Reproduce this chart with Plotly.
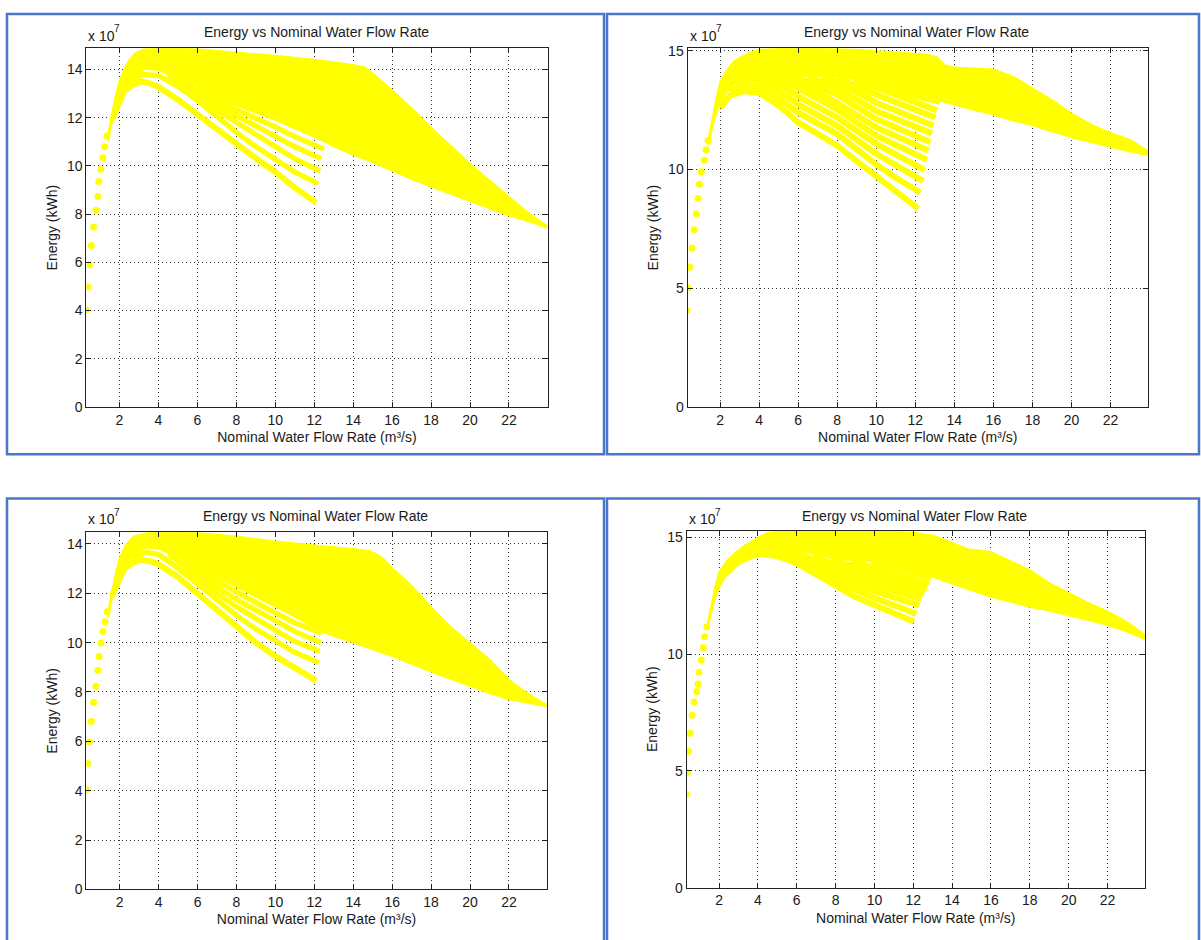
import plotly.graph_objects as go

W, H = 1201, 940
YELLOW = "#FFFF00"
TEXT = "#1a1a1a"
FONT = "Liberation Sans, Arial, Helvetica, sans-serif"
BORDER = "#4a76c8"

TITLE = "Energy vs Nominal Water Flow Rate"
XLABEL = "Nominal Water Flow Rate (m³/s)"
YLABEL = "Energy (kWh)"
EXP_BASE = "x 10"
EXP_POWER = "7"
X_TICKS = [2, 4, 6, 8, 10, 12, 14, 16, 18, 20, 22]
Y_TICKS_A = [0, 2, 4, 6, 8, 10, 12, 14]
Y_TICKS_B = [0, 5, 10, 15]

# ---------------- values (energy in units of 1e7 kWh) ----------------
# Panel 1 (top-left)
P1_DOTS_X = [0.30, 0.38, 0.47, 0.55, 0.67, 0.79, 0.89, 0.94, 1.04, 1.14, 1.24, 1.35]
P1_DOTS_Y = [4.03, 4.98, 5.90, 6.70, 7.47, 8.15, 8.73, 9.35, 9.86, 10.34, 10.80, 11.24]
P1_TOP_X = [1.40, 1.50, 1.65, 1.80, 2.00, 2.30, 2.75, 3.25, 4.0, 5.0, 6.0, 8.0, 10.0, 12.0, 14.0, 14.6,
            15.0, 16.0, 17.0, 18.0, 19.0, 20.0, 21.0, 22.0, 23.0, 23.5, 24.0]
P1_TOP_Y = [11.30, 11.70, 12.30, 12.95, 13.55, 14.15, 14.65, 14.85, 14.88, 14.90, 14.85, 14.72, 14.58, 14.42,
            14.20, 14.10, 13.85, 13.15, 12.40, 11.60, 10.85, 10.10, 9.40, 8.72, 8.05, 7.77, 7.50]
P1_BOT_X = [24.0, 23.0, 22.0, 21.0, 20.0, 19.0, 18.0, 17.0, 16.0, 15.0, 14.0, 13.0, 12.6, 11.0, 10.0, 9.0,
            8.0, 7.0, 6.0, 5.0, 4.0, 3.3, 2.8, 2.4, 2.0, 1.7, 1.4]
P1_BOT_Y = [7.42, 7.70, 7.93, 8.22, 8.53, 8.83, 9.14, 9.45, 9.80, 10.15, 10.45, 10.80, 10.98, 11.55, 11.90,
            12.20, 12.50, 12.82, 13.32, 13.62, 13.97, 14.02, 13.75, 13.35, 12.85, 12.10, 11.00]
P1_BANDS_X = [
    [1.6, 1.9, 2.2, 2.6, 3.1, 3.5, 4.0, 5.0, 6.0, 7.0, 8.0, 9.0, 10.0, 11.0, 12.1],
    [2.6, 3.2, 4.0, 5.0, 6.0, 7.0, 8.0, 9.0, 10.0, 11.0, 12.2],
    [4.5, 5.0, 6.0, 7.0, 8.0, 9.0, 10.0, 11.0, 12.3],
    [5.2, 6.0, 7.0, 8.0, 9.0, 10.0, 11.0, 12.35],
    [6.0, 7.0, 8.0, 9.0, 10.0, 11.0, 12.5],
]
P1_BANDS_Y = [
    [11.9, 12.55, 13.05, 13.35, 13.5, 13.45, 13.28, 12.75, 12.13, 11.5, 10.9, 10.32, 9.75, 9.1, 8.48],
    [13.55, 13.8, 13.75, 13.3, 12.72, 12.05, 11.4, 10.8, 10.25, 9.75, 9.27],
    [13.78, 13.52, 12.95, 12.32, 11.82, 11.3, 10.8, 10.3, 9.8],
    [13.54, 13.12, 12.52, 12.1, 11.7, 11.25, 10.8, 10.3],
    [13.27, 12.7, 12.33, 12.0, 11.62, 11.22, 10.7],
]

# Panel 2 (top-right)
P2_DOTS_X = [0.30, 0.36, 0.45, 0.56, 0.67, 0.78, 0.87, 0.94, 1.04, 1.18, 1.28, 1.38]
P2_DOTS_Y = [4.05, 5.02, 5.88, 6.69, 7.46, 8.13, 8.78, 9.38, 9.90, 10.39, 10.83, 11.22]
P2_TOP_X = [1.40, 1.60, 1.80, 2.00, 2.30, 2.70, 3.20, 3.60, 4.0, 5.0, 7.0, 9.0, 11.0, 12.5, 13.1, 13.5,
            14.0, 15.0, 16.0, 17.0, 18.0, 19.0, 20.0, 21.0, 22.0, 23.0, 23.5, 23.92]
P2_TOP_Y = [11.30, 12.20, 13.00, 13.70, 14.15, 14.55, 14.80, 14.95, 15.05, 15.10, 15.10, 15.05, 14.95,
            14.85, 14.75, 14.40, 14.30, 14.25, 14.22, 13.92, 13.42, 12.93, 12.37, 11.90, 11.55, 11.25,
            11.00, 10.78]
P2_BOT_X = [23.92, 23.0, 22.0, 21.0, 20.0, 19.0, 18.0, 17.0, 16.0, 15.0, 14.0, 13.3, 12.0, 11.0, 10.0,
            9.0, 8.0, 7.0, 6.0, 5.0, 4.0, 3.4, 2.8, 2.3, 2.0, 1.7, 1.4]
P2_BOT_Y = [10.60, 10.75, 10.95, 11.15, 11.35, 11.60, 11.85, 12.05, 12.30, 12.50, 12.72, 12.90, 13.18,
            13.40, 13.60, 13.78, 13.90, 13.95, 13.95, 13.95, 13.92, 13.88, 13.65, 13.20, 12.80, 12.10, 11.00]
P2_FAN_X = [
    [2.0, 2.5, 3.2, 4.0, 5.0, 6.0, 7.0, 8.0, 9.0, 10.0, 11.0, 12.15],
    [2.5, 3.3, 4.0, 5.0, 6.0, 7.0, 8.0, 10.0, 11.0, 12.26],
    [2.8, 3.5, 4.0, 5.0, 6.0, 8.0, 10.0, 12.4],
    [3.8, 4.2, 5.0, 6.0, 8.0, 10.0, 12.48],
    [4.5, 5.0, 6.0, 8.0, 10.0, 12.6],
    [5.2, 6.0, 8.0, 10.0, 12.68],
    [5.8, 6.0, 8.0, 10.0, 12.77],
    [6.5, 8.0, 10.0, 12.85],
    [7.2, 8.0, 10.0, 12.94],
    [8.0, 10.0, 13.03],
    [8.8, 10.0, 13.11],
    [9.5, 10.0, 13.25],
]
P2_FAN_Y = [
    [12.6, 13.1, 13.3, 13.22, 12.7, 11.98, 11.5, 11.0, 10.35, 9.7, 9.05, 8.35],
    [13.3, 13.55, 13.48, 13.0, 12.39, 11.95, 11.49, 10.21, 9.65, 9.03],
    [13.6, 13.8, 13.75, 13.3, 12.74, 11.84, 10.66, 9.51],
    [13.85, 13.82, 13.6, 13.08, 12.19, 11.08, 9.97],
    [13.88, 13.8, 13.43, 12.53, 11.42, 10.41],
    [13.9, 13.7, 12.81, 11.77, 10.8],
    [13.9, 13.85, 13.15, 12.12, 11.15],
    [13.9, 13.43, 12.46, 11.52],
    [13.88, 13.7, 12.81, 11.84],
    [13.85, 13.15, 12.19],
    [13.7, 13.45, 12.49],
    [13.5, 13.5, 12.85],
]

# Panel 3 (bottom-left)
P3_DOTS_X = [0.30, 0.36, 0.44, 0.54, 0.66, 0.78, 0.88, 0.95, 1.04, 1.14, 1.25, 1.36]
P3_DOTS_Y = [4.05, 5.10, 5.97, 6.80, 7.57, 8.23, 8.88, 9.44, 9.98, 10.45, 10.85, 11.25]
P3_TOP_X = [1.40, 1.60, 1.80, 2.00, 2.30, 2.70, 3.50, 4.0, 6.0, 8.0, 10.0, 12.0, 14.0, 14.9, 15.5, 16.0,
            17.0, 18.0, 19.0, 20.0, 21.0, 22.0, 23.0, 23.95]
P3_TOP_Y = [11.30, 12.10, 12.85, 13.45, 13.95, 14.30, 14.47, 14.50, 14.45, 14.31, 14.11, 13.95, 13.81,
            13.71, 13.45, 13.04, 12.31, 11.45, 10.65, 9.98, 9.32, 8.50, 7.92, 7.48]
P3_BOT_X = [23.95, 23.0, 22.0, 21.0, 20.0, 19.0, 18.0, 17.0, 16.0, 15.0, 14.0, 13.0, 12.45, 11.0, 10.0,
            9.0, 8.0, 7.0, 6.0, 5.0, 4.0, 3.4, 2.8, 2.4, 2.0, 1.7, 1.4]
P3_BOT_Y = [7.40, 7.55, 7.69, 7.95, 8.22, 8.52, 8.82, 9.13, 9.45, 9.72, 10.00, 10.25, 10.42, 11.05, 11.45,
            11.85, 12.25, 12.65, 13.15, 13.45, 13.80, 13.85, 13.60, 13.30, 12.85, 12.10, 11.00]
P3_BANDS_X = [
    [1.6, 1.9, 2.2, 2.6, 3.1, 3.6, 4.0, 5.0, 6.0, 7.0, 8.0, 9.0, 10.0, 11.0, 12.1],
    [2.6, 3.4, 4.0, 5.0, 6.0, 7.0, 8.0, 9.0, 10.0, 11.0, 12.23],
    [4.5, 5.0, 6.0, 7.0, 8.0, 9.0, 10.0, 11.0, 12.28],
    [5.2, 6.0, 7.0, 8.0, 9.0, 10.0, 11.0, 12.33],
    [5.8, 7.0, 8.0, 9.0, 10.0, 11.0, 12.4],
]
P3_BANDS_Y = [
    [11.9, 12.5, 12.95, 13.22, 13.35, 13.3, 13.18, 12.65, 11.98, 11.3, 10.6, 10.0, 9.45, 8.95, 8.46],
    [13.42, 13.66, 13.57, 13.02, 12.38, 11.72, 11.1, 10.55, 10.05, 9.6, 9.19],
    [13.58, 13.3, 12.62, 12.0, 11.45, 10.95, 10.5, 10.05, 9.65],
    [13.38, 12.85, 12.25, 11.75, 11.3, 10.85, 10.45, 10.0],
    [13.18, 12.5, 12.05, 11.6, 11.2, 10.8, 10.38],
]

# Panel 4 (bottom-right)
P4_DOTS_X = [0.30, 0.36, 0.43, 0.52, 0.62, 0.71, 0.85, 0.92, 0.97, 1.09, 1.19, 1.26, 1.37]
P4_DOTS_Y = [4.00, 4.92, 5.83, 6.61, 7.38, 7.95, 8.40, 8.72, 9.22, 9.75, 10.27, 10.74, 11.17]
P4_TOP_X = [1.40, 1.60, 1.80, 2.00, 2.40, 2.77, 3.20, 3.63, 4.0, 4.5, 5.0, 8.0, 10.0, 12.0, 13.1, 13.95,
            14.8, 16.0, 17.0, 18.0, 19.1, 20.0, 21.0, 22.0, 23.0, 23.9]
P4_TOP_Y = [11.30, 12.10, 12.90, 13.51, 14.00, 14.29, 14.60, 14.79, 15.00, 15.20, 15.28, 15.28, 15.27,
            15.22, 15.07, 14.79, 14.50, 14.38, 14.00, 13.60, 13.00, 12.62, 12.20, 11.84, 11.38, 10.85]
P4_BOT_X = [23.9, 23.0, 22.0, 21.0, 20.0, 19.0, 18.0, 17.0, 16.0, 15.0, 14.0, 13.0, 12.0, 11.0, 10.0, 9.0,
            8.0, 7.0, 6.0, 5.0, 4.3, 3.6, 3.0, 2.5, 2.0, 1.7, 1.4]
P4_BOT_Y = [10.65, 10.95, 11.24, 11.45, 11.66, 11.85, 12.02, 12.22, 12.44, 12.72, 13.01, 13.30, 13.55,
            13.75, 13.95, 14.02, 14.05, 14.25, 14.45, 14.60, 14.60, 14.45, 14.10, 13.55, 12.85, 12.10, 11.00]
P4_FAN_X = [
    [2.3, 3.0, 4.0, 5.0, 6.0, 7.0, 8.0, 9.0, 10.0, 11.0, 12.04],
    [3.0, 4.2, 5.0, 6.0, 8.0, 10.0, 12.16],
    [4.5, 5.0, 6.0, 8.0, 10.0, 12.3],
    [5.8, 6.0, 8.0, 10.0, 12.42],
    [6.8, 8.0, 10.0, 12.56],
    [7.8, 8.0, 10.0, 12.7],
    [8.8, 10.0, 12.81],
    [9.8, 10.0, 12.93],
]
P4_FAN_Y = [
    [13.4, 13.95, 14.3, 14.2, 13.88, 13.4, 12.88, 12.45, 12.1, 11.75, 11.38],
    [14.15, 14.5, 14.45, 14.1, 13.12, 12.4, 11.73],
    [14.55, 14.55, 14.3, 13.37, 12.69, 12.09],
    [14.4, 14.35, 13.6, 12.94, 12.35],
    [14.15, 13.82, 13.2, 12.58],
    [14.02, 14.0, 13.44, 12.8],
    [13.98, 13.67, 13.01],
    [13.93, 13.95, 13.25],
]

# ---------------- layout description (pixels) ----------------
PANELS = [
    dict(data=(P1_DOTS_X, P1_DOTS_Y, P1_TOP_X, P1_TOP_Y, P1_BOT_X, P1_BOT_Y, P1_BANDS_X, P1_BANDS_Y),
         ax=(86.4, 547.5, 43, 407), xr=(0.30, 23.98), yr=(0, 14.88), yt=Y_TICKS_A,
         box=(7, 604, 8, 455), title=(316, 26), exp=(86, 30), lw=(6.0, 5.2)),
    dict(data=(P2_DOTS_X, P2_DOTS_Y, P2_TOP_X, P2_TOP_Y, P2_BOT_X, P2_BOT_Y, P2_FAN_X, P2_FAN_Y),
         ax=(687.5, 1148, 43, 407), xr=(0.33, 23.92), yr=(0, 15.1), yt=Y_TICKS_B,
         box=(607, 1199, 8, 455), title=(916, 26), exp=(688, 30), lw=(6.0, 6.0)),
    dict(data=(P3_DOTS_X, P3_DOTS_Y, P3_TOP_X, P3_TOP_Y, P3_BOT_X, P3_BOT_Y, P3_BANDS_X, P3_BANDS_Y),
         ax=(86.4, 546.7, 534.3, 896.7), xr=(0.29, 23.94), yr=(0, 14.47), yt=Y_TICKS_A,
         box=(7, 604, 500, 960), title=(315, 518), exp=(86, 521), lw=(6.0, 5.2)),
    dict(data=(P4_DOTS_X, P4_DOTS_Y, P4_TOP_X, P4_TOP_Y, P4_BOT_X, P4_BOT_Y, P4_FAN_X, P4_FAN_Y),
         ax=(686.6, 1145, 532.7, 895), xr=(0.33, 23.93), yr=(0, 15.28), yt=Y_TICKS_B,
         box=(607, 1199, 500, 960), title=(914, 518), exp=(687, 521), lw=(6.0, 6.0)),
]


def fx(px):
    return px / W


def fy(py):
    return 1 - py / H


fig = go.Figure()
annotations = []
shapes = []
layout_axes = {}
font = dict(family=FONT, size=14, color=TEXT)
font_small = dict(family=FONT, size=10, color=TEXT)

for i, p in enumerate(PANELS, start=1):
    sfx = "" if i == 1 else str(i)
    xa, ya = "x" + sfx, "y" + sfx
    dx, dy, tx, ty, bx, by, lx, ly = p["data"]
    w_first, w_rest = p["lw"]

    # main body of the curve family
    fig.add_trace(go.Scatter(x=tx + bx, y=ty + by, xaxis=xa, yaxis=ya, mode="lines",
                             fill="toself", fillcolor=YELLOW,
                             line=dict(color=YELLOW, width=1.5),
                             showlegend=False, hoverinfo="skip"))
    # separated curves
    for k, (cx, cy) in enumerate(zip(lx, ly)):
        fig.add_trace(go.Scatter(x=cx, y=cy, xaxis=xa, yaxis=ya, mode="lines",
                                 line=dict(color=YELLOW, width=w_first if k == 0 else w_rest),
                                 showlegend=False, hoverinfo="skip"))
    # discrete points at low flow
    fig.add_trace(go.Scatter(x=dx, y=dy, xaxis=xa, yaxis=ya, mode="markers",
                             marker=dict(color=YELLOW, size=7, line=dict(width=0)),
                             showlegend=False, hoverinfo="skip"))

    l, r, t, b = p["ax"]
    axis_common = dict(showline=True, linecolor="#222222", linewidth=1, mirror="ticks",
                       ticks="inside", ticklen=5, tickcolor="#222222", zeroline=False,
                       showgrid=True, gridcolor="#333333", gridwidth=1, griddash="1px,3px",
                       tickfont=font, fixedrange=True)
    layout_axes["xaxis" + sfx] = dict(axis_common, domain=[fx(l), fx(r)], range=list(p["xr"]),
                                      anchor=ya, tickvals=X_TICKS,
                                      title=dict(text=XLABEL, font=font, standoff=5))
    layout_axes["yaxis" + sfx] = dict(axis_common, domain=[fy(b), fy(t)], range=list(p["yr"]),
                                      anchor=xa, tickvals=p["yt"],
                                      title=dict(text=YLABEL, font=font, standoff=6))

    annotations.append(dict(text=TITLE, x=fx(p["title"][0]), y=fy(p["title"][1]),
                            xref="paper", yref="paper", xanchor="center", yanchor="middle",
                            showarrow=False, font=font))
    ex, ey = p["exp"]
    annotations.append(dict(text=EXP_BASE, x=fx(ex), y=fy(ey),
                            xref="paper", yref="paper", xanchor="left", yanchor="middle",
                            showarrow=False, font=font))
    annotations.append(dict(text=EXP_POWER, x=fx(ex + 26), y=fy(ey - 7),
                            xref="paper", yref="paper", xanchor="left", yanchor="middle",
                            showarrow=False, font=font_small))
    bl, br, bt, bb = p["box"]
    shapes.append(dict(type="rect", xref="paper", yref="paper", x0=fx(bl), x1=fx(br),
                       y0=fy(bb), y1=fy(bt), line=dict(color=BORDER, width=2.5),
                       fillcolor="rgba(0,0,0,0)", layer="above"))

fig.update_layout(width=W, height=H, margin=dict(l=0, r=0, t=0, b=0), autosize=False,
                  paper_bgcolor="white", plot_bgcolor="white",
                  annotations=annotations, shapes=shapes, **layout_axes)

fig.write_html("out.html", config={"displayModeBar": False},
               post_script="document.body.style.margin='0px';document.body.style.overflow='hidden';")
